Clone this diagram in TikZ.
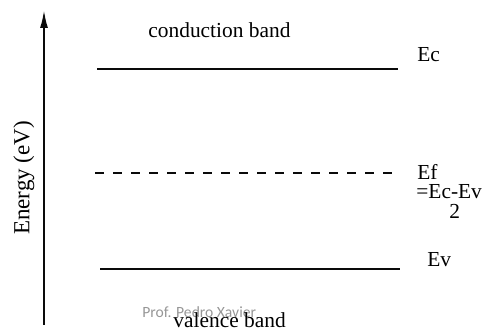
\documentclass[tikz,border=0pt]{standalone}
\usepackage{fontspec}
\setmainfont{Liberation Serif}
\newfontfamily\credfont{Carlito}
\usetikzlibrary{arrows.meta,positioning}
\definecolor{levelblack}{RGB}{10,10,10}
\definecolor{credgray}{RGB}{150,150,150}

\begin{document}
\begin{tikzpicture}[
  x=0.5pt, y=-0.5pt,
  font=\fontsize{10.7}{13}\selectfont,
  lbl/.style={inner sep=0pt, anchor=base west},
  level/.style={line width=1pt, levelblack},
  fermi/.style={level, dash pattern=on 4.5pt off 4.5pt},
  ar/.style={-{Latex[length=9pt,width=4pt]}, line width=1pt, levelblack}
]
\useasboundingbox (0,0) rectangle (483,331);

% energy axis
\coordinate (axisbot) at (44,325);
\coordinate (axistop) at (44,10);
\draw[ar] (axisbot) -- (axistop);
\node[inner sep=0pt, rotate=90, font=\fontsize{11.5}{13}\selectfont] (axislbl) at (24,178) {Energy (eV)};

% band edges
\coordinate (ecl) at (97,69);  \coordinate (ecr) at (398,69);
\coordinate (efl) at (95,173); \coordinate (efr) at (392,173);
\coordinate (evl) at (100,269);\coordinate (evr) at (400,269);
\draw[level] (ecl) -- (ecr);
\draw[fermi] (efl) -- (efr);
\draw[level] (evl) -- (evr);

% labels
\node[lbl] (cband) at (148,38) {conduction band};
\node[lbl] (ec) at (417,62) {Ec};
\node[lbl] (ef) at (417,180) {Ef};
\node[lbl] (efeq) at (416,199) {=Ec-Ev};
\node[lbl] (eftwo) at (449,219) {2};
\node[lbl] (ev) at (427,267) {Ev};
\node[lbl, text=credgray, font=\credfont\fontsize{7.8}{9}\selectfont] (cred) at (142,318) {Prof. Pedro Xavier};
\node[lbl] (vband) at (173,328) {valence band};
\end{tikzpicture}
\end{document}
